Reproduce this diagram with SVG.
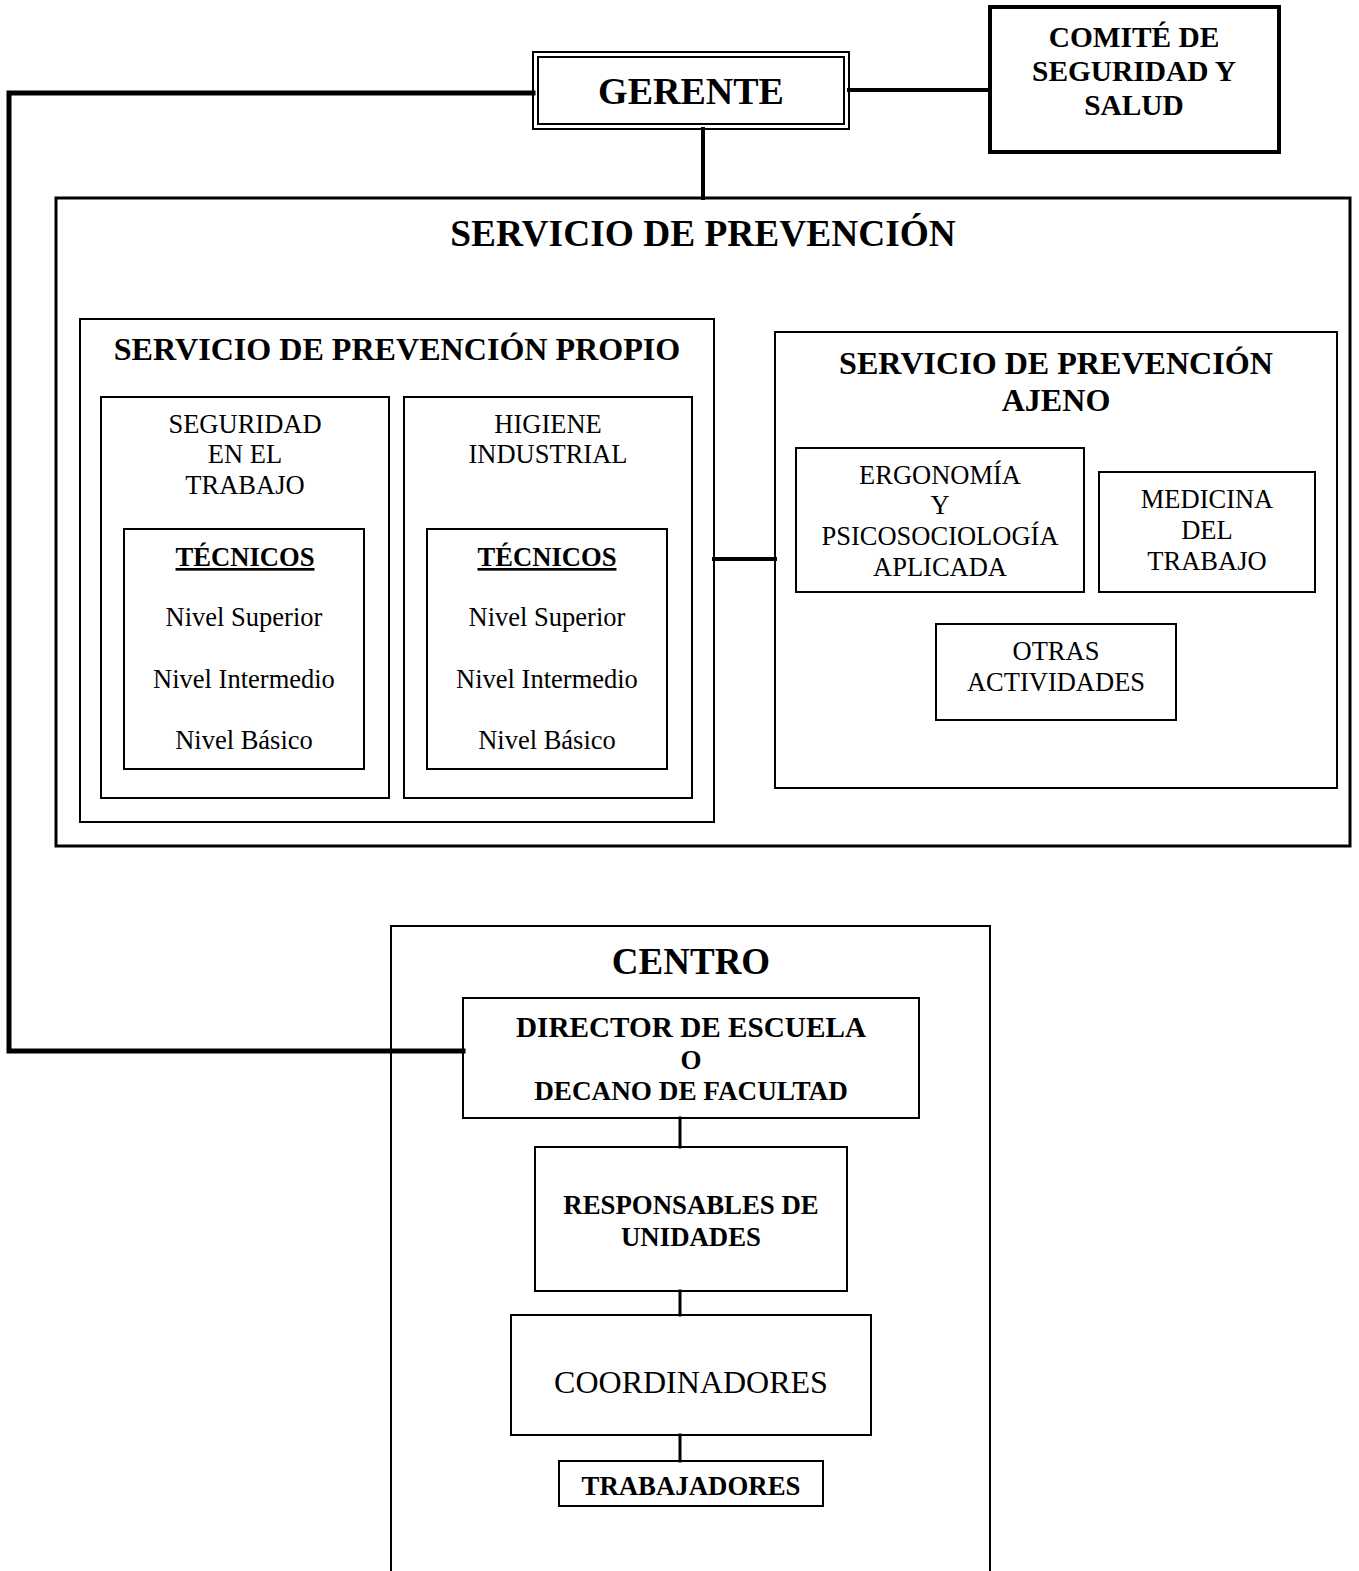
<svg xmlns="http://www.w3.org/2000/svg" width="1359" height="1571" viewBox="0 0 1359 1571">
<style>
text{font-family:"Liberation Serif","Times New Roman",serif;fill:#000;text-anchor:middle}
.b{font-weight:bold}
.r{font-size:26.5px}
.box{fill:none;stroke:#000;stroke-width:2}
.con{fill:none;stroke:#000;stroke-linecap:square}
</style>
<rect width="1359" height="1571" fill="#fff"/>
<g id="connectors">
<polyline class="con" stroke-width="5" points="533,93 9,93 9,1051 463,1051"/>
<line class="con" stroke-width="4" x1="849" y1="90" x2="990" y2="90"/>
<line class="con" stroke-width="4" x1="703" y1="129" x2="703" y2="198"/>
<line class="con" stroke-width="4" x1="714" y1="559" x2="775" y2="559"/>
<line class="con" stroke-width="3" x1="680" y1="1118" x2="680" y2="1147"/>
<line class="con" stroke-width="3" x1="680" y1="1291" x2="680" y2="1315"/>
<line class="con" stroke-width="3" x1="680" y1="1435" x2="680" y2="1461"/>
</g>
<g id="gerente">
<rect class="box" x="533" y="52" width="316" height="77"/>
<rect class="box" x="538" y="57" width="306" height="67"/>
<text class="b" x="691" y="104" font-size="38">GERENTE</text>
</g>
<g id="comite">
<rect x="990" y="7" width="289" height="145" fill="none" stroke="#000" stroke-width="4"/>
<text class="b" x="1134" y="47" font-size="29.4">COMITÉ DE</text>
<text class="b" x="1134" y="81" font-size="29.4">SEGURIDAD Y</text>
<text class="b" x="1134" y="115" font-size="29.4">SALUD</text>
</g>
<g id="servicio-prevencion">
<rect x="56" y="198" width="1294" height="648" fill="none" stroke="#000" stroke-width="3"/>
<text class="b" x="703" y="246" font-size="37.4">SERVICIO DE PREVENCIÓN</text>
</g>
<g id="propio">
<rect class="box" x="80" y="319" width="634" height="503"/>
<text class="b" x="397" y="360" font-size="32.1">SERVICIO DE PREVENCIÓN PROPIO</text>
</g>
<g id="seguridad">
<rect class="box" x="101" y="397" width="288" height="401"/>
<text class="r" x="245" y="433">SEGURIDAD</text>
<text class="r" x="245" y="463">EN EL</text>
<text class="r" x="245" y="494">TRABAJO</text>
</g>
<g id="tecnicos-seguridad">
<rect class="box" x="124" y="529" width="240" height="240"/>
<text class="b" x="245" y="566" font-size="26.6" text-decoration="underline">TÉCNICOS</text>
<text class="r" x="244" y="626">Nivel Superior</text>
<text class="r" x="244" y="688">Nivel Intermedio</text>
<text class="r" x="244" y="749">Nivel Básico</text>
</g>
<g id="higiene">
<rect class="box" x="404" y="397" width="288" height="401"/>
<text class="r" x="548" y="433">HIGIENE</text>
<text class="r" x="548" y="463">INDUSTRIAL</text>
</g>
<g id="tecnicos-higiene">
<rect class="box" x="427" y="529" width="240" height="240"/>
<text class="b" x="547" y="566" font-size="26.6" text-decoration="underline">TÉCNICOS</text>
<text class="r" x="547" y="626">Nivel Superior</text>
<text class="r" x="547" y="688">Nivel Intermedio</text>
<text class="r" x="547" y="749">Nivel Básico</text>
</g>
<g id="ajeno">
<rect class="box" x="775" y="332" width="562" height="456"/>
<text class="b" x="1056" y="374" font-size="32.1">SERVICIO DE PREVENCIÓN</text>
<text class="b" x="1056" y="411" font-size="32.1">AJENO</text>
</g>
<g id="ergonomia">
<rect class="box" x="796" y="448" width="288" height="144"/>
<text class="r" x="940" y="484">ERGONOMÍA</text>
<text class="r" x="940" y="514">Y</text>
<text class="r" x="940" y="545">PSICOSOCIOLOGÍA</text>
<text class="r" x="940" y="576">APLICADA</text>
</g>
<g id="medicina">
<rect class="box" x="1099" y="472" width="216" height="120"/>
<text class="r" x="1207" y="508">MEDICINA</text>
<text class="r" x="1207" y="539">DEL</text>
<text class="r" x="1207" y="570">TRABAJO</text>
</g>
<g id="otras">
<rect class="box" x="936" y="624" width="240" height="96"/>
<text class="r" x="1056" y="660">OTRAS</text>
<text class="r" x="1056" y="691">ACTIVIDADES</text>
</g>
<g id="centro">
<polyline fill="none" stroke="#000" stroke-width="2" points="391,1575 391,926 990,926 990,1575"/>
<text class="b" x="691" y="974" font-size="37">CENTRO</text>
</g>
<g id="director">
<rect class="box" x="463" y="998" width="456" height="120"/>
<text class="b" x="691" y="1037" font-size="28.5" textLength="350" lengthAdjust="spacingAndGlyphs">DIRECTOR DE ESCUELA</text>
<text class="b" x="691" y="1069" font-size="27">O</text>
<text class="b" x="691" y="1100" font-size="27.2">DECANO DE FACULTAD</text>
</g>
<g id="responsables">
<rect class="box" x="535" y="1147" width="312" height="144"/>
<text class="b" x="691" y="1214" font-size="26.8">RESPONSABLES DE</text>
<text class="b" x="691" y="1246" font-size="26.8">UNIDADES</text>
</g>
<g id="coordinadores">
<rect class="box" x="511" y="1315" width="360" height="120"/>
<text x="691" y="1393" font-size="32">COORDINADORES</text>
</g>
<g id="trabajadores">
<rect class="box" x="559" y="1461" width="264" height="45"/>
<text class="b" x="691" y="1495" font-size="26.8">TRABAJADORES</text>
</g>
</svg>
